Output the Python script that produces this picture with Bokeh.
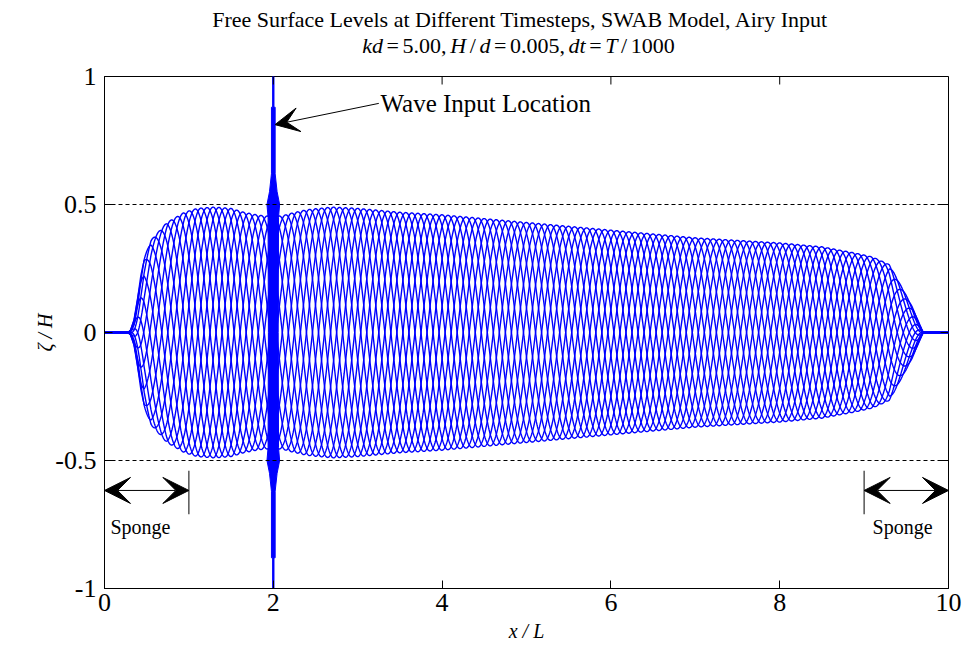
import numpy as np
from bokeh.plotting import figure
from bokeh.layouts import column
from bokeh.models import Range1d, FixedTicker, Span, Arrow, VeeHead, Label
from bokeh.embed import file_html
from bokeh.resources import INLINE

# ---------------- data ----------------
x_ticks = [0, 2, 4, 6, 8, 10]
y_ticks = [-1, -0.5, 0, 0.5, 1]
y_tick_labels = ["-1", "-0.5", "0", "0.5", "1"]

# envelope (wave amplitude, zeta/H) along the flume, x/L
env_x = [0.0, 0.28, 0.31, 0.35, 0.39, 0.43, 0.47, 0.55, 0.74, 0.95, 1.1, 1.3, 1.5,
         1.65, 1.8, 1.9, 2.1, 2.2, 2.4, 2.7, 3.0, 3.5, 4.0, 4.5, 5.0, 5.5, 6.0,
         6.5, 7.0, 7.5, 8.0, 8.5, 8.9, 9.1, 9.3, 9.49, 9.57, 9.66, 9.7, 10.0]
env_amp = [0.0, 0.0, 0.01, 0.05, 0.13, 0.22, 0.29, 0.36, 0.43, 0.47, 0.485, 0.49, 0.485,
           0.47, 0.46, 0.455, 0.455, 0.465, 0.48, 0.49, 0.485, 0.47, 0.46, 0.445, 0.43, 0.415, 0.40,
           0.385, 0.37, 0.36, 0.35, 0.335, 0.31, 0.295, 0.265, 0.15, 0.10, 0.03, 0.0, 0.0]
n_snapshots = 14          # number of plotted timesteps (one wave period)
wavelength = 1.0          # x/L
source_x = 2.0            # wave input location

# dense band of the source region at x/L = 2
spike_y = [1.0, 0.88, 0.88, 0.62, 0.55, 0.50, 0.45, 0.0, -0.45, -0.50, -0.55, -0.62, -0.88, -0.88, -1.0]
spike_hw = [0.008, 0.008, 0.022, 0.022, 0.045, 0.075, 0.062, 0.058, 0.062, 0.075, 0.045, 0.022, 0.022, 0.008, 0.008]

sponge_left = [0.0, 1.0]
sponge_right = [9.0, 10.0]

title_line1 = "Free Surface Levels at Different Timesteps, SWAB Model, Airy Input"
title_line2 = [("kd", "italic"), ("=", "normal"), ("5.00,", "normal"), ("H", "italic"),
               ("/", "normal"), ("d", "italic"), ("=", "normal"), ("0.005,", "normal"),
               ("dt", "italic"), ("=", "normal"), ("T", "italic"), ("/", "normal"),
               ("1000", "normal")]
# advance widths (px, Times metrics at 22px) used only to lay the pieces out
piece_w = [20.8, 12.4, 44.0, 15.9, 6.1, 11.0, 12.4, 55.0, 17.1, 12.4, 12.2, 6.1, 44.0]
piece_gap = 3.6

BLUE = "#0000ff"
FONT = "Liberation Serif"

# ---------------- title strip (data units = canvas pixels) ----------------
t = figure(width=965, height=58, x_range=Range1d(104, 948), y_range=Range1d(58, 0),
           output_backend="svg", toolbar_location=None,
           min_border_left=104, min_border_right=17, min_border_top=0, min_border_bottom=0)
t.axis.visible = False
t.grid.visible = False
t.outline_line_color = None
t.add_layout(Label(x=520, y=19, text=title_line1, text_font=FONT, text_font_size="22px",
                   text_align="center", text_baseline="middle", text_color="black"))
total = sum(piece_w) + piece_gap * (len(piece_w) - 1)
cx = 518 - total / 2
for (txt, style), w in zip(title_line2, piece_w):
    t.add_layout(Label(x=cx, y=45, text=txt, text_font=FONT, text_font_style=style,
                       text_font_size="22px", text_baseline="middle", text_color="black"))
    cx += w + piece_gap

# ---------------- main plot ----------------
p = figure(width=965, height=590, x_range=Range1d(0, 10), y_range=Range1d(-1, 1),
           output_backend="svg", toolbar_location=None,
           min_border_left=104, min_border_right=17, min_border_top=18, min_border_bottom=60)
p.xgrid.visible = False
p.ygrid.visible = False
p.outline_line_color = "black"
p.outline_line_width = 1

# wave snapshots
xf = np.linspace(0, 10, 2001)
amp = np.interp(xf, env_x, env_amp)
xs, ys = [], []
for j in range(n_snapshots):
    ph = 2 * np.pi * j / n_snapshots
    xs.append(xf)
    ys.append(amp * np.cos(2 * np.pi * np.abs(xf - source_x) / wavelength - ph))
p.multi_line(xs, ys, line_color=BLUE, line_width=1.4)

# source band
sy = np.array(spike_y)
sh = np.array(spike_hw)
px = list(source_x + sh) + list((source_x - sh)[::-1])
py = list(sy) + list(sy[::-1])
p.patch(px, py, fill_color=BLUE, line_color=BLUE, line_width=1)

# dashed reference lines
for lv in (0.5, -0.5):
    p.add_layout(Span(location=lv, dimension="width", line_color="black",
                      line_width=1, line_dash="4 3"))

# sponge markers
p.segment(x0=[sponge_left[1], sponge_right[0]], y0=[-0.54, -0.54],
          x1=[sponge_left[1], sponge_right[0]], y1=[-0.71, -0.71],
          line_color="black", line_width=1)
for a, b in (sponge_left, sponge_right):
    p.add_layout(Arrow(start=VeeHead(size=26, fill_color="black", line_color="black"),
                       end=VeeHead(size=26, fill_color="black", line_color="black"),
                       x_start=a, y_start=-0.617, x_end=b, y_end=-0.617,
                       line_color="black", line_width=1))
for xx in (0.07, 9.1):
    p.add_layout(Label(x=xx, y=-0.76, text="Sponge", text_font=FONT,
                       text_font_size="20px", text_baseline="middle", text_color="black"))

# wave input arrow
p.add_layout(Arrow(end=VeeHead(size=24, fill_color="black", line_color="black"),
                   x_start=3.25, y_start=0.895, x_end=2.02, y_end=0.812,
                   line_color="black", line_width=1))
p.add_layout(Label(x=3.27, y=0.893, text="Wave Input Location", text_font=FONT,
                   text_font_size="25px", text_baseline="middle", text_color="black"))

# axes (ticks inside)
for ax in (p.xaxis[0], p.yaxis[0]):
    ax.major_tick_in = 8
    ax.major_tick_out = 0
    ax.minor_tick_line_color = None
    ax.axis_line_color = "black"
    ax.major_tick_line_color = "black"
    ax.major_label_text_font = FONT
    ax.major_label_text_font_size = "26px"
    ax.major_label_text_color = "black"
    ax.axis_label_text_font = FONT
    ax.axis_label_text_font_style = "italic"
    ax.axis_label_text_font_size = "20px"
    ax.axis_label_text_color = "black"
p.xaxis.ticker = FixedTicker(ticks=x_ticks)
p.yaxis.ticker = FixedTicker(ticks=y_ticks)
p.yaxis.major_label_overrides = {tk: s for tk, s in zip(y_ticks, y_tick_labels)}
p.xaxis.major_label_standoff = 5
p.yaxis.major_label_standoff = 8
p.xaxis.axis_label = "x / L"
p.yaxis.axis_label = "ζ / H"
p.xaxis.axis_label_standoff = 6
p.yaxis.axis_label_standoff = -4

# mirrored inward ticks on top and right edges of the box
tick_dy = 8 / 256.0
tick_dx = 8 / 84.4
p.segment(x0=x_ticks, y0=[1] * len(x_ticks), x1=x_ticks, y1=[1 - tick_dy] * len(x_ticks),
          line_color="black", line_width=1)
p.segment(x0=[10] * len(y_ticks), y0=y_ticks, x1=[10 - tick_dx] * len(y_ticks), y1=y_ticks,
          line_color="black", line_width=1)

layout = column(t, p, spacing=0)
open("out.html", "w").write(file_html(layout, INLINE))
